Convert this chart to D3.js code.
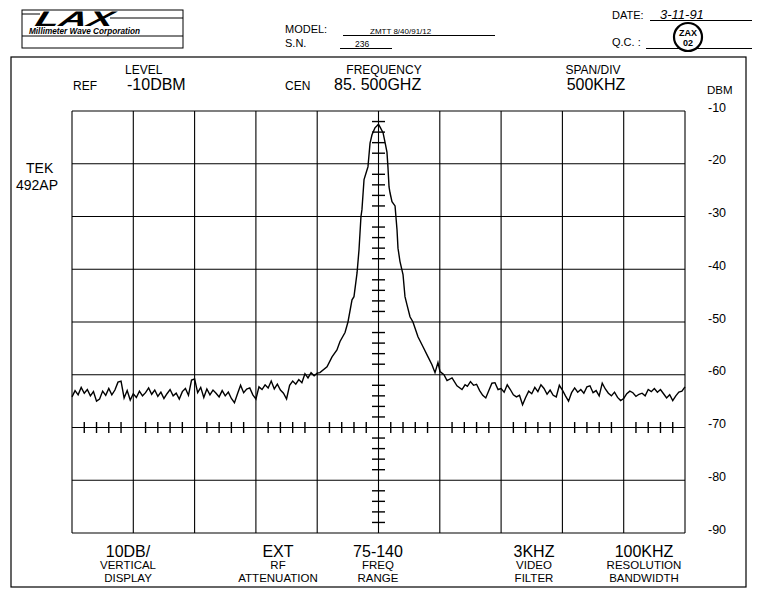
<!DOCTYPE html>
<html><head><meta charset="utf-8">
<script src="https://cdn.jsdelivr.net/npm/d3@7"></script>
<style>
html,body{margin:0;padding:0;background:#fff;}
svg{display:block;}
text{font-family:"Liberation Sans",Arial,sans-serif;fill:#000;}
</style></head>
<body>
<svg id="c" width="772" height="610"></svg>
<script>
// ---------------- data ----------------
const dbTicks = [-10,-20,-30,-40,-50,-60,-70,-80,-90];
const freqDivs = [-2500,-2000,-1500,-1000,-500,0,500,1000,1500,2000,2500]; // kHz offset from 85.500 GHz
// trace: [kHz offset, dBm]
const noiseLeftKHz = [-2500,-2475,-2450,-2425,-2400,-2375,-2350,-2325,-2300,-2275,-2250,-2225,-2200,-2175,-2150,-2125,-2100,-2075,-2050,-2025,-2000,-1975,-1950,-1925,-1900,-1875,-1850,-1825,-1800,-1775,-1750,-1725,-1700,-1675,-1650,-1625,-1600,-1575,-1550,-1525,-1500,-1475,-1450,-1425,-1400,-1375,-1350,-1325,-1300,-1275,-1250,-1225,-1200,-1175,-1150,-1125,-1100,-1075,-1050,-1025,-1000,-975,-950,-925,-900,-875,-850,-825,-800,-775,-750,-725,-700,-675,-650,-625,-600,-575,-550,-525,-500];
const noiseLeftDBM = [-64.2,-63.0,-63.8,-62.4,-63.5,-62.8,-64.0,-63.2,-65.0,-64.6,-63.1,-63.9,-62.6,-63.8,-62.9,-61.4,-61.2,-64.4,-63.0,-64.8,-63.6,-64.3,-63.1,-64.0,-63.4,-62.5,-63.7,-62.9,-64.1,-63.3,-64.5,-63.6,-62.8,-64.0,-63.5,-64.6,-63.2,-62.6,-63.9,-61.0,-60.8,-63.4,-62.4,-64.3,-62.7,-63.8,-62.9,-63.5,-64.2,-63.0,-64.0,-63.3,-64.5,-65.3,-63.6,-62.0,-63.4,-62.7,-62.5,-63.8,-64.6,-62.3,-62.8,-61.9,-62.5,-61.2,-62.7,-61.8,-62.9,-63.5,-64.6,-62.0,-61.2,-61.8,-60.9,-61.5,-59.8,-60.6,-59.6,-60.2,-59.7];
const peakKHz = [-478,-420,-379,-339,-314,-273,-249,-216,-200,-175,-159,-143,-135,-118,-94,-86,-69,-53,-29,-12,0,12,37,53,69,77,86,94,110,135,151,159,175,200,216,232,257,281,322,363,404,436,461,485,502,534,559,600,640,681,706];
const peakDBM = [-59.6,-58.5,-56.6,-55.3,-53.7,-52.0,-50.0,-45.8,-45.2,-40.7,-36.3,-30.0,-28.7,-23.0,-21.2,-20.6,-16.1,-14.5,-13.2,-12.8,-12.5,-13.0,-14.1,-15.9,-17.8,-20.6,-24.4,-25.5,-27.2,-28.0,-32.5,-36.0,-38.5,-41.0,-45.2,-46.7,-49.0,-50.0,-52.8,-54.7,-56.6,-58.1,-59.6,-57.7,-59.4,-60.0,-61.1,-60.6,-62.1,-62.8,-61.9];
const noiseRightKHz = [725,750,775,800,825,850,875,900,925,950,975,1000,1025,1050,1075,1100,1125,1150,1175,1200,1225,1250,1275,1300,1325,1350,1375,1400,1425,1450,1475,1500,1525,1550,1575,1600,1625,1650,1675,1700,1725,1750,1775,1800,1825,1850,1875,1900,1925,1950,1975,2000,2025,2050,2075,2100,2125,2150,2175,2200,2225,2250,2275,2300,2325,2350,2375,2400,2425,2450,2475,2500];
const noiseRightDBM = [-62.2,-61.3,-62.0,-61.8,-63.0,-63.9,-64.4,-63.0,-61.6,-61.5,-62.8,-62.6,-63.3,-61.9,-62.8,-63.8,-64.2,-63.9,-65.7,-64.3,-63.1,-63.6,-62.4,-63.2,-61.9,-62.6,-63.7,-62.9,-63.9,-64.2,-62.0,-62.9,-64.0,-65.0,-63.4,-62.5,-63.3,-62.8,-63.5,-62.3,-62.1,-63.4,-63.0,-64.0,-61.6,-62.7,-63.5,-64.0,-63.3,-64.3,-64.9,-64.5,-63.6,-63.1,-63.4,-64.1,-63.7,-63.5,-64.0,-62.8,-63.2,-62.6,-63.3,-62.8,-63.6,-64.4,-63.8,-64.9,-64.0,-63.3,-63.1,-62.3];
const settingsValues = ["10DB/","EXT","75-140","3KHZ","100KHZ"];
const settingsLine1 = ["VERTICAL","RF","FREQ","VIDEO","RESOLUTION"];
const settingsLine2 = ["DISPLAY","ATTENUATION","RANGE","FILTER","BANDWIDTH"];

// ---------------- drawing ----------------
const svg = d3.select("#c");
const x = d3.scaleLinear().domain([-2500,2500]).range([72,685]);
const y = d3.scaleLinear().domain([-90,-10]).range([533,111]);

// outer frame
svg.append("rect").attr("x",11).attr("y",57).attr("width",735).attr("height",530)
  .attr("fill","none").attr("stroke","#000").attr("stroke-width",1.2);

// header: logo box
const logo = svg.append("g");
logo.append("rect").attr("x",22).attr("y",10).attr("width",161).attr("height",38).attr("fill","none").attr("stroke","#000").attr("stroke-width",1);
logo.append("line").attr("x1",22).attr("x2",183).attr("y1",36).attr("y2",36).attr("stroke","#000");
logo.append("line").attr("x1",110).attr("x2",183).attr("y1",18).attr("y2",18).attr("stroke","#000");
logo.append("line").attr("x1",22).attr("x2",40).attr("y1",14).attr("y2",14).attr("stroke","#000");
logo.append("text").attr("x",34).attr("y",26).attr("font-size",21).attr("font-weight",900)
  .attr("font-style","italic").attr("textLength",78).attr("lengthAdjust","spacingAndGlyphs")
  .attr("transform","skewX(-15) translate(7,0)").text("LAX");
logo.append("text").attr("x",29).attr("y",34).attr("font-size",9).attr("font-style","italic")
  .attr("font-family","Liberation Serif, serif").attr("font-weight","bold")
  .attr("textLength",111).attr("lengthAdjust","spacingAndGlyphs").text("Millimeter Wave Corporation");

// model / SN
svg.append("text").attr("x",285).attr("y",33).attr("font-size",11).text("MODEL:");
svg.append("text").attr("x",285).attr("y",47).attr("font-size",11).text("S.N.");
svg.append("line").attr("x1",343).attr("x2",495).attr("y1",35.5).attr("y2",35.5).attr("stroke","#000");
svg.append("line").attr("x1",340).attr("x2",392).attr("y1",48.5).attr("y2",48.5).attr("stroke","#000");
svg.append("text").attr("x",370).attr("y",34).attr("font-size",8).attr("font-family","Liberation Serif, serif").text("ZMTT 8/40/91/12");
svg.append("text").attr("x",355).attr("y",47).attr("font-size",8.5).attr("font-family","Liberation Serif, serif").text("236");

// date / QC
svg.append("text").attr("x",612).attr("y",19).attr("font-size",11).text("DATE:");
svg.append("line").attr("x1",650).attr("x2",752).attr("y1",20.5).attr("y2",20.5).attr("stroke","#000");
svg.append("text").attr("x",660).attr("y",19).attr("font-size",13).attr("font-style","italic")
  .attr("font-family","DejaVu Sans, sans-serif").attr("font-weight",200).text("3-11-91");
svg.append("text").attr("x",612).attr("y",46).attr("font-size",11).text("Q.C. :");
svg.append("line").attr("x1",646).attr("x2",752).attr("y1",48.5).attr("y2",48.5).attr("stroke","#000");
svg.append("circle").attr("cx",688).attr("cy",37).attr("r",14).attr("fill","#fff").attr("stroke","#000").attr("stroke-width",2.2);
svg.append("text").attr("x",688).attr("y",36).attr("font-size",9).attr("font-weight","bold").attr("text-anchor","middle").text("ZAX");
svg.append("text").attr("x",688).attr("y",46).attr("font-size",9).attr("font-weight","bold").attr("text-anchor","middle").text("02");

// top instrument labels
const hdr = svg.append("g");
hdr.append("text").attr("x",125).attr("y",74).attr("font-size",12).text("LEVEL");
hdr.append("text").attr("x",73).attr("y",90).attr("font-size",12).text("REF");
hdr.append("text").attr("x",127).attr("y",90).attr("font-size",16).text("-10DBM");
hdr.append("text").attr("x",384).attr("y",74).attr("font-size",12).attr("text-anchor","middle").text("FREQUENCY");
hdr.append("text").attr("x",285).attr("y",90).attr("font-size",12).text("CEN");
hdr.append("text").attr("x",334).attr("y",90).attr("font-size",16).text("85. 500GHZ");
hdr.append("text").attr("x",593).attr("y",74).attr("font-size",12).attr("text-anchor","middle").text("SPAN/DIV");
hdr.append("text").attr("x",596).attr("y",90).attr("font-size",16).attr("text-anchor","middle").text("500KHZ");
hdr.append("text").attr("x",707).attr("y",94).attr("font-size",11.5).text("DBM");
svg.append("text").attr("x",26).attr("y",173).attr("font-size",14).text("TEK");
svg.append("text").attr("x",16).attr("y",190).attr("font-size",14).text("492AP");

// grid
const g = svg.append("g");
g.selectAll("line.h").data(dbTicks).join("line").attr("class","h")
  .attr("x1",x(-2500)).attr("x2",x(2500)).attr("y1",d=>y(d)).attr("y2",d=>y(d))
  .attr("stroke","#000").attr("stroke-width",1.1);
g.selectAll("line.v").data(freqDivs).join("line").attr("class","v")
  .attr("x1",d=>x(d)).attr("x2",d=>x(d)).attr("y1",y(-10)).attr("y2",y(-90))
  .attr("stroke","#000").attr("stroke-width",1.1);

// minor ticks on center vertical (every 2 dB) and on -70 line (every 100 kHz)
const vMinor = d3.range(-88,-10,2).filter(d=>d%10!==0);
g.selectAll("line.vm").data(vMinor).join("line").attr("class","vm")
  .attr("x1",x(0)-6.5).attr("x2",x(0)+6.5).attr("y1",d=>y(d)).attr("y2",d=>y(d))
  .attr("stroke","#000").attr("stroke-width",1.4);
const hMinor = d3.range(-2400,2500,100).filter(d=>d%500!==0);
g.selectAll("line.hm").data(hMinor).join("line").attr("class","hm")
  .attr("x1",d=>x(d)).attr("x2",d=>x(d)).attr("y1",y(-70)-5.5).attr("y2",y(-70)+5.5)
  .attr("stroke","#000").attr("stroke-width",1.4);

// right dB axis labels
const ax = d3.axisRight(y).tickValues(dbTicks).tickSize(0).tickPadding(0).tickFormat(d=>String(d));
const axg = svg.append("g").attr("transform","translate(708,-4)").call(ax);
axg.select(".domain").remove();
axg.selectAll("text").attr("font-size",12.5).attr("fill","#000").attr("font-family","Liberation Sans, Arial, sans-serif");

// trace
const trace = [];
noiseLeftKHz.forEach((k,i)=>trace.push([k,noiseLeftDBM[i]]));
peakKHz.forEach((k,i)=>trace.push([k,peakDBM[i]]));
noiseRightKHz.forEach((k,i)=>trace.push([k,noiseRightDBM[i]]));
const line = d3.line().x(d=>x(d[0])).y(d=>y(d[1])).curve(d3.curveLinear);
svg.append("path").datum(trace).attr("d",line).attr("fill","none").attr("stroke","#000")
  .attr("stroke-width",1.4).attr("stroke-linejoin","miter");

// bottom settings
const centers = [128,278,378,534,644];
const bot = svg.append("g");
centers.forEach((cx,i)=>{
  bot.append("text").attr("x",cx).attr("y",557).attr("font-size",16).attr("text-anchor","middle").text(settingsValues[i]);
  bot.append("text").attr("x",cx).attr("y",569).attr("font-size",11.5).attr("text-anchor","middle").text(settingsLine1[i]);
  bot.append("text").attr("x",cx).attr("y",582).attr("font-size",11.5).attr("text-anchor","middle").text(settingsLine2[i]);
});
</script>
</body></html>
